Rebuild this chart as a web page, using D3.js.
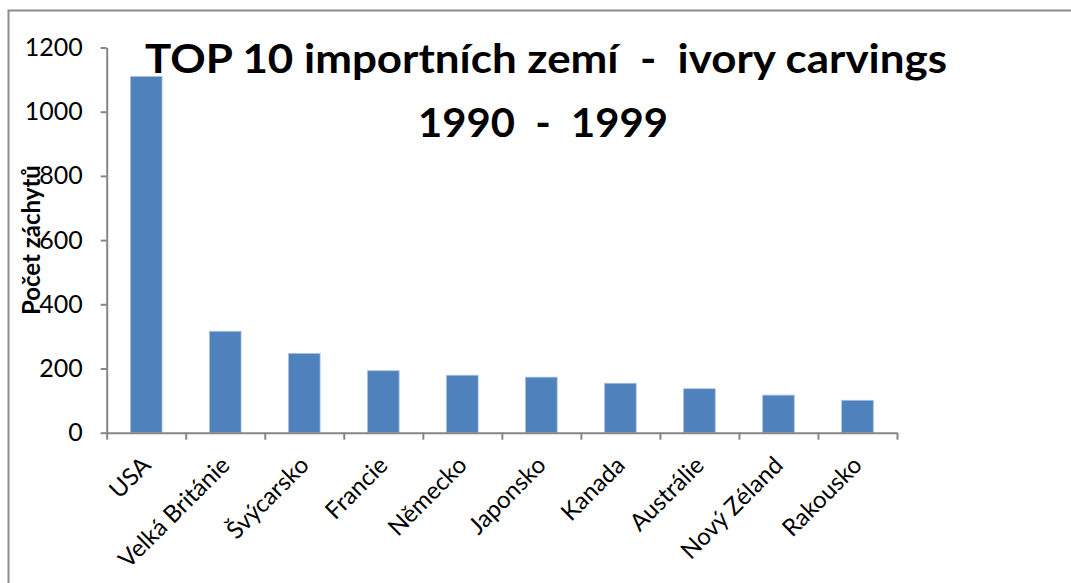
<!DOCTYPE html>
<html><head><meta charset="utf-8">
<script src="https://cdn.jsdelivr.net/npm/d3@7"></script>
<style>
html,body{margin:0;padding:0;background:#fff;overflow:hidden;}
svg{display:block;}
text{white-space:pre;}
</style></head>
<body>
<svg id="chart" width="1071" height="583"></svg>
<script>
const categories = ["USA","Velká Británie","Švýcarsko","Francie","Německo","Japonsko","Kanada","Austrálie","Nový Zéland","Rakousko"];
const values = [1110, 316, 247, 193, 179, 173, 154, 137, 117, 101];
const yTicks = [0, 200, 400, 600, 800, 1000, 1200];
const titleLines = ["TOP 10 importních zemí  -  ivory carvings", "1990  -  1999"];
const yTitle = "Počet záchytů";

const svg = d3.select("#chart");
const font = "Lato, 'Open Sans', sans-serif";
const L = 106.7, R = 897, T = 47.5, B = 432.7;

// frame
svg.append("path").attr("d", `M8.5,583 V10.5 H1071`).attr("fill","none").attr("stroke","#8c8c8c").attr("stroke-width",2);

const y = d3.scaleLinear().domain([0,1200]).range([B,T]);
const x = d3.scaleBand().domain(categories).range([L,R]).paddingInner(0.6).paddingOuter(0.3);
const xi = d3.scaleLinear().domain([0,categories.length]).range([L,R]);

// bars
svg.append("g").selectAll("rect").data(values).join("rect")
  .attr("x",(d,i)=>x(categories[i]))
  .attr("y",d=>y(d))
  .attr("width",x.bandwidth())
  .attr("height",d=>B-y(d))
  .attr("fill","#4F81BD")
  .attr("stroke","#a9c1e0").attr("stroke-width",0.8);

// y axis
const ya = svg.append("g").attr("transform",`translate(${L},0)`)
  .call(d3.axisLeft(y).tickValues(yTicks).tickSize(6).tickSizeOuter(0).tickPadding(18).tickFormat(d3.format("d")));
ya.select(".domain").attr("stroke","#868686").attr("stroke-width",2);
ya.selectAll(".tick line").attr("stroke","#868686").attr("stroke-width",2);
ya.selectAll(".tick text").attr("font-family",font).attr("font-size",25).attr("fill","#000");

// x axis (ticks at category boundaries)
const xa = svg.append("g").attr("transform",`translate(0,${B})`)
  .call(d3.axisBottom(xi).tickValues(d3.range(categories.length+1)).tickSize(7).tickSizeOuter(0).tickFormat(""));
xa.select(".domain").attr("stroke","#868686").attr("stroke-width",2);
xa.selectAll(".tick line").attr("stroke","#868686").attr("stroke-width",2);

// x labels
svg.append("g").selectAll("text").data(categories).join("text")
  .attr("transform",d=>`translate(${x(d)+x.bandwidth()/2+6},${B+34}) rotate(-45)`)
  .attr("text-anchor","end")
  .attr("font-family",font).attr("font-size",24).attr("fill","#000")
  .text(d=>d);

// y title
svg.append("text")
  .attr("transform",`translate(40,${(T+B)/2}) rotate(-90)`)
  .attr("text-anchor","middle")
  .attr("font-family",font).attr("font-weight","bold").attr("font-size",24)
  .text(yTitle);

// title
svg.append("text").attr("x",546).attr("y",73).attr("text-anchor","middle")
  .attr("font-family",font).attr("font-weight","bold").attr("font-size",41)
  .attr("textLength",802).attr("lengthAdjust","spacingAndGlyphs")
  .text(titleLines[0]);
svg.append("text").attr("x",543).attr("y",137).attr("text-anchor","middle")
  .attr("font-family",font).attr("font-weight","bold").attr("font-size",41)
  .attr("textLength",250).attr("lengthAdjust","spacingAndGlyphs")
  .text(titleLines[1]);
</script>
</body></html>
